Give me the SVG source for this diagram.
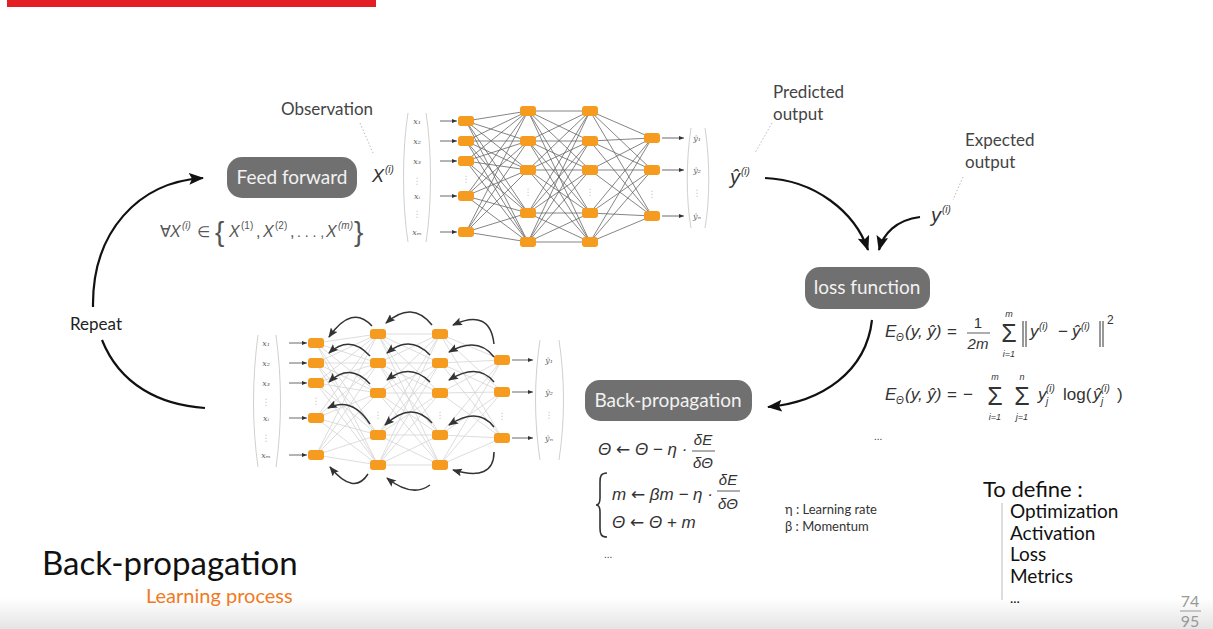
<svg xmlns="http://www.w3.org/2000/svg" width="1213" height="629" viewBox="0 0 1213 629">
<style>
.lbl{font-family:Lato,"Liberation Sans",sans-serif;fill:#444}
.pill{fill:#707070}
.pilltxt{font-family:Lato,"Liberation Sans",sans-serif;font-size:19px;fill:#f2f2f2;text-anchor:middle}
.node{fill:#f59b1f}
.m{font-family:"Liberation Sans","DejaVu Sans",sans-serif;fill:#333}
.mi{font-family:"Liberation Sans","DejaVu Sans",sans-serif;fill:#333;font-style:italic}
.arr{font-family:"DejaVu Sans",sans-serif;font-style:normal}
.tiny{font-family:"DejaVu Serif",serif;font-style:italic;font-size:8px;fill:#666;text-anchor:middle}
.dots{font-family:"DejaVu Sans",sans-serif;font-size:9px;fill:#c8c8c8;text-anchor:middle}
.big{fill:none;stroke:#111;stroke-width:2.2}
.small{fill:none;stroke:#333;stroke-width:1.5}
.inarr{fill:none;stroke:#444;stroke-width:0.8}
.lead{fill:none;stroke:#bbb;stroke-width:1;stroke-dasharray:1.5 2}
.paren{fill:none;stroke:#d0d0d0;stroke-width:1}
.fa{font-family:"Liberation Sans","DejaVu Sans",sans-serif;fill:#555}
</style>
<defs>
<marker id="bigHead" markerUnits="userSpaceOnUse" markerWidth="16" markerHeight="12" refX="14" refY="6" orient="auto">
<path d="M0,0 L15,6 L0,12 L3,6 z" fill="#111"/>
</marker>
<marker id="smHead" markerUnits="userSpaceOnUse" markerWidth="10" markerHeight="8" refX="9" refY="4" orient="auto">
<path d="M0,0 L10,4 L0,8 L2,4 z" fill="#333"/>
</marker>
<marker id="tinyHead" markerUnits="userSpaceOnUse" markerWidth="5" markerHeight="4" refX="5" refY="2" orient="auto">
<path d="M0,0 L5,2 L0,4 z" fill="#333"/>
</marker>
<linearGradient id="band" x1="0" y1="0" x2="0" y2="1">
<stop offset="0" stop-color="#ffffff"/>
<stop offset="1" stop-color="#e4e4e4"/>
</linearGradient>
</defs>
<rect x="0" y="0" width="1213" height="629" fill="#ffffff"/>
<rect x="0" y="598" width="1213" height="31" fill="url(#band)"/>
<rect x="7" y="0" width="369" height="7" fill="#e31e24"/>

<g id="connectors">
<path class="big" d="M765,178 C815,180 855,212 868,250" marker-end="url(#bigHead)"/>
<path class="big" d="M920,217 C896,220 883,234 879,250" marker-end="url(#bigHead)"/>
<path class="big" d="M872,320 C866,372 822,402 768,407" marker-end="url(#bigHead)"/>
<path class="big" d="M205,408 C160,405 120,385 102,340"/>
<path class="big" d="M93,307 C92,232 138,182 203,178" marker-end="url(#bigHead)"/>
<path class="lead" d="M360,123 L373,153"/>
<path class="lead" d="M772,123 L755,153"/>
<path class="lead" d="M963,177 L953,200"/>
</g>

<g id="top-network">
<path d="M408,113 C402,150 402,205 408,242" class="paren"/>
<path d="M426,113 C432,150 432,205 426,242" class="paren"/>
<path d="M691,128 C686,160 686,200 691,228" class="paren"/>
<path d="M705,128 C710,160 710,200 705,228" class="paren"/>
<text class="tiny" x="417" y="124">x₁</text>
<text class="tiny" x="417" y="144">x₂</text>
<text class="tiny" x="417" y="164">x₃</text>
<text class="dots" x="417" y="184">⋮</text>
<text class="tiny" x="417" y="199">xᵢ</text>
<text class="dots" x="417" y="217">⋮</text>
<text class="tiny" x="417" y="235">xₘ</text>
<text class="tiny" x="697" y="141">ŷ₁</text>
<text class="tiny" x="697" y="173">ŷ₂</text>
<text class="dots" x="697" y="196">⋮</text>
<text class="tiny" x="697" y="219">ŷₙ</text>
<g class="inarr" marker-end="url(#tinyHead)">
<path d="M440,121 L457,121"/><path d="M440,141 L457,141"/><path d="M440,161 L457,161"/><path d="M440,196 L457,196"/><path d="M440,232 L457,232"/>
<path d="M662,138 L684,138"/><path d="M662,170 L684,170"/><path d="M662,216 L684,216"/>
</g>
<path fill="none" stroke="#666" stroke-width="0.8" d="M466 121L528 111M466 121L528 141M466 121L528 170M466 121L528 213M466 121L528 242M466 141L528 111M466 141L528 141M466 141L528 170M466 141L528 213M466 141L528 242M466 161L528 111M466 161L528 141M466 161L528 170M466 161L528 213M466 161L528 242M466 196L528 111M466 196L528 141M466 196L528 170M466 196L528 213M466 196L528 242M466 232L528 111M466 232L528 141M466 232L528 170M466 232L528 213M466 232L528 242
M528 111L590 111M528 111L590 141M528 111L590 170M528 111L590 213M528 111L590 242M528 141L590 111M528 141L590 141M528 141L590 170M528 141L590 213M528 141L590 242M528 170L590 111M528 170L590 141M528 170L590 170M528 170L590 213M528 170L590 242M528 213L590 111M528 213L590 141M528 213L590 170M528 213L590 213M528 213L590 242M528 242L590 111M528 242L590 141M528 242L590 170M528 242L590 213M528 242L590 242
M590 111L652 138M590 111L652 170M590 111L652 216M590 141L652 138M590 141L652 170M590 141L652 216M590 170L652 138M590 170L652 170M590 170L652 216M590 213L652 138M590 213L652 170M590 213L652 216M590 242L652 138M590 242L652 170M590 242L652 216"/>
<text class="dots" x="466" y="182">⋮</text>
<text class="dots" x="528" y="195">⋮</text>
<text class="dots" x="590" y="195">⋮</text>
<text class="dots" x="652" y="197">⋮</text>
<g class="node">
<rect x="458" y="116" width="16" height="10" rx="3"/><rect x="458" y="136" width="16" height="10" rx="3"/><rect x="458" y="156" width="16" height="10" rx="3"/><rect x="458" y="191" width="16" height="10" rx="3"/><rect x="458" y="227" width="16" height="10" rx="3"/>
<rect x="520" y="106" width="16" height="10" rx="3"/><rect x="520" y="136" width="16" height="10" rx="3"/><rect x="520" y="165" width="16" height="10" rx="3"/><rect x="520" y="208" width="16" height="10" rx="3"/><rect x="520" y="237" width="16" height="10" rx="3"/>
<rect x="582" y="106" width="16" height="10" rx="3"/><rect x="582" y="136" width="16" height="10" rx="3"/><rect x="582" y="165" width="16" height="10" rx="3"/><rect x="582" y="208" width="16" height="10" rx="3"/><rect x="582" y="237" width="16" height="10" rx="3"/>
<rect x="644" y="133" width="16" height="10" rx="3"/><rect x="644" y="165" width="16" height="10" rx="3"/><rect x="644" y="211" width="16" height="10" rx="3"/>
</g>
</g>

<g id="bottom-network">
<path d="M258,335 C252,380 252,425 258,467" class="paren"/>
<path d="M276,335 C282,380 282,425 276,467" class="paren"/>
<path d="M540,340 C534,380 534,420 540,460" class="paren"/>
<path d="M559,340 C565,380 565,420 559,460" class="paren"/>
<text class="tiny" x="266" y="346">x₁</text>
<text class="tiny" x="266" y="366">x₂</text>
<text class="tiny" x="266" y="386">x₃</text>
<text class="dots" x="266" y="405">⋮</text>
<text class="tiny" x="266" y="421">xᵢ</text>
<text class="dots" x="266" y="441">⋮</text>
<text class="tiny" x="266" y="458">xₘ</text>
<text class="tiny" x="549" y="363">ŷ₁</text>
<text class="tiny" x="549" y="395">ŷ₂</text>
<text class="dots" x="549" y="418">⋮</text>
<text class="tiny" x="549" y="441">ŷₙ</text>
<g class="inarr" marker-end="url(#tinyHead)">
<path d="M289,343 L307,343"/><path d="M289,363 L307,363"/><path d="M289,383 L307,383"/><path d="M289,418 L307,418"/><path d="M289,455 L307,455"/>
<path d="M512,360 L533,360"/><path d="M512,392 L533,392"/><path d="M512,438 L533,438"/>
</g>
<path fill="none" stroke="#d4d4d4" stroke-width="0.8" d="M316 343L378 334M316 343L378 363M316 343L378 393M316 343L378 435M316 343L378 465M316 363L378 334M316 363L378 363M316 363L378 393M316 363L378 435M316 363L378 465M316 383L378 334M316 383L378 363M316 383L378 393M316 383L378 435M316 383L378 465M316 418L378 334M316 418L378 363M316 418L378 393M316 418L378 435M316 418L378 465M316 455L378 334M316 455L378 363M316 455L378 393M316 455L378 435M316 455L378 465
M378 334L440 334M378 334L440 363M378 334L440 393M378 334L440 435M378 334L440 465M378 363L440 334M378 363L440 363M378 363L440 393M378 363L440 435M378 363L440 465M378 393L440 334M378 393L440 363M378 393L440 393M378 393L440 435M378 393L440 465M378 435L440 334M378 435L440 363M378 435L440 393M378 435L440 435M378 435L440 465M378 465L440 334M378 465L440 363M378 465L440 393M378 465L440 435M378 465L440 465
M440 334L502 360M440 334L502 392M440 334L502 438M440 363L502 360M440 363L502 392M440 363L502 438M440 393L502 360M440 393L502 392M440 393L502 438M440 435L502 360M440 435L502 392M440 435L502 438M440 465L502 360M440 465L502 392M440 465L502 438"/>
<text class="dots" x="316" y="404">⋮</text>
<text class="dots" x="378" y="418">⋮</text>
<text class="dots" x="440" y="418">⋮</text>
<text class="dots" x="502" y="419">⋮</text>
<g class="node">
<rect x="308" y="338" width="16" height="10" rx="3"/><rect x="308" y="358" width="16" height="10" rx="3"/><rect x="308" y="378" width="16" height="10" rx="3"/><rect x="308" y="413" width="16" height="10" rx="3"/><rect x="308" y="450" width="16" height="10" rx="3"/>
<rect x="370" y="329" width="16" height="10" rx="3"/><rect x="370" y="358" width="16" height="10" rx="3"/><rect x="370" y="388" width="16" height="10" rx="3"/><rect x="370" y="430" width="16" height="10" rx="3"/><rect x="370" y="460" width="16" height="10" rx="3"/>
<rect x="432" y="329" width="16" height="10" rx="3"/><rect x="432" y="358" width="16" height="10" rx="3"/><rect x="432" y="388" width="16" height="10" rx="3"/><rect x="432" y="430" width="16" height="10" rx="3"/><rect x="432" y="460" width="16" height="10" rx="3"/>
<rect x="494" y="355" width="16" height="10" rx="3"/><rect x="494" y="387" width="16" height="10" rx="3"/><rect x="494" y="433" width="16" height="10" rx="3"/>
</g>
<g class="small" marker-end="url(#smHead)">
<path d="M372,326 Q352,304 329,337"/>
<path d="M370,356 Q350,334 329,353"/>
<path d="M370,384 Q350,362 329,382"/>
<path d="M370,424 Q352,396 328,408"/>
<path d="M368,474 Q354,496 330,467"/>
<path d="M432,325 Q412,300 386,323"/>
<path d="M430,355 Q410,334 387,353"/>
<path d="M430,382 Q410,362 387,380"/>
<path d="M432,423 Q412,400 385,425"/>
<path d="M430,485 Q412,498 387,478"/>
<path d="M494,344 Q490,308 453,325"/>
<path d="M494,357 Q478,336 449,352"/>
<path d="M494,382 Q478,362 449,380"/>
<path d="M494,427 Q478,406 449,425"/>
<path d="M494,452 Q494,482 453,470"/>
</g>
</g>

<g id="feed-forward">
<rect class="pill" x="227" y="157" width="130" height="41" rx="15"/>
<text class="pilltxt" x="292" y="184">Feed forward</text>
</g>
<g id="loss-function">
<rect class="pill" x="805" y="267" width="125" height="42" rx="15"/>
<text class="pilltxt" x="867" y="294">loss function</text>
</g>
<g id="back-propagation">
<rect class="pill" x="585" y="380" width="167" height="41" rx="15"/>
<text class="pilltxt" x="668" y="407">Back-propagation</text>
</g>

<g id="labels">
<text class="lbl" x="281" y="115" font-size="17">Observation</text>
<text class="lbl" x="773" y="98" font-size="17">Predicted</text>
<text class="lbl" x="773" y="120" font-size="17">output</text>
<text class="lbl" x="965" y="146" font-size="17">Expected</text>
<text class="lbl" x="965" y="168" font-size="17">output</text>
<text class="lbl" x="70" y="330" font-size="17" style="fill:#222">Repeat</text>
<text class="mi" x="372" y="182" font-size="18">X</text>
<text class="mi" x="385" y="173" font-size="10">(i)</text>
<text class="mi" x="730" y="184" font-size="20">ŷ</text>
<text class="mi" x="741" y="175" font-size="10">(i)</text>
<text class="mi" x="931" y="222" font-size="20">y</text>
<text class="mi" x="942" y="213" font-size="10">(i)</text>
</g>

<g id="forall">
<text class="fa" x="160" y="237" font-size="16">∀</text>
<text class="fa" x="170" y="237" font-size="16" font-style="italic">X</text>
<text class="fa" x="182" y="229" font-size="10" font-style="italic">(i)</text>
<text class="fa" x="197" y="237" font-size="15">∈</text>
<text class="fa" x="215" y="241" font-size="28">{</text>
<text class="fa" x="229" y="237" font-size="16" font-style="italic">X</text>
<text class="fa" x="241" y="229" font-size="10">(1)</text>
<text class="fa" x="256" y="237" font-size="16">,</text>
<text class="fa" x="263" y="237" font-size="16" font-style="italic">X</text>
<text class="fa" x="275" y="229" font-size="10">(2)</text>
<text class="fa" x="290" y="237" font-size="16">,</text>
<text class="fa" x="297" y="237" font-size="14">. . . ,</text>
<text class="fa" x="326" y="237" font-size="16" font-style="italic">X</text>
<text class="fa" x="338" y="229" font-size="10" font-style="italic">(m)</text>
<text class="fa" x="354" y="241" font-size="28">}</text>
</g>

<g id="loss-formulas">
<text class="mi" x="885" y="337" font-size="17">E</text>
<text class="mi" x="896" y="341" font-size="10">Θ</text>
<text class="mi" x="905" y="337" font-size="17">(y, ŷ)</text>
<text class="m" x="947" y="337" font-size="17">=</text>
<text class="m" x="978" y="328" font-size="15" text-anchor="middle">1</text>
<line x1="967" y1="333" x2="990" y2="333" stroke="#333" stroke-width="0.8"/>
<text class="mi" x="978" y="349" font-size="15" text-anchor="middle">2m</text>
<text class="m" x="1009" y="342" font-size="25" text-anchor="middle">Σ</text>
<text class="mi" x="1009" y="317" font-size="9" text-anchor="middle">m</text>
<text class="mi" x="1009" y="357" font-size="9" text-anchor="middle">i=1</text>
<path d="M1023,321 V347 M1026,321 V347 M1100,321 V347 M1103,321 V347" stroke="#333" stroke-width="1"/>
<text class="mi" x="1030" y="337" font-size="17">y</text>
<text class="mi" x="1039" y="330" font-size="10">(i)</text>
<text class="m" x="1058" y="337" font-size="17">−</text>
<text class="mi" x="1072" y="337" font-size="17">ŷ</text>
<text class="mi" x="1081" y="330" font-size="10">(i)</text>
<text class="m" x="1107" y="324" font-size="12">2</text>

<text class="mi" x="885" y="400" font-size="17">E</text>
<text class="mi" x="896" y="404" font-size="10">Θ</text>
<text class="mi" x="905" y="400" font-size="17">(y, ŷ)</text>
<text class="m" x="947" y="400" font-size="17">=</text>
<text class="m" x="963" y="400" font-size="17">−</text>
<text class="m" x="995" y="405" font-size="25" text-anchor="middle">Σ</text>
<text class="mi" x="995" y="380" font-size="9" text-anchor="middle">m</text>
<text class="mi" x="995" y="420" font-size="9" text-anchor="middle">i=1</text>
<text class="m" x="1022" y="405" font-size="25" text-anchor="middle">Σ</text>
<text class="mi" x="1022" y="380" font-size="9" text-anchor="middle">n</text>
<text class="mi" x="1022" y="420" font-size="9" text-anchor="middle">j=1</text>
<text class="mi" x="1038" y="400" font-size="17">y</text>
<text class="mi" x="1046" y="405" font-size="10">j</text>
<text class="mi" x="1046" y="392" font-size="10">(i)</text>
<text class="m" x="1063" y="400" font-size="17">log(</text>
<text class="mi" x="1093" y="400" font-size="17">ŷ</text>
<text class="mi" x="1101" y="405" font-size="10">j</text>
<text class="mi" x="1101" y="392" font-size="10">(i)</text>
<text class="m" x="1117" y="400" font-size="17">)</text>
<text class="m" x="874" y="440" font-size="10">...</text>
</g>

<g id="update-formulas">
<text class="mi" x="598" y="455" font-size="17">Θ <tspan class="arr">←</tspan> Θ − η ·</text>
<text class="mi" x="703" y="445" font-size="15" text-anchor="middle">δE</text>
<line x1="692" y1="451" x2="715" y2="451" stroke="#333" stroke-width="0.8"/>
<text class="mi" x="703" y="468" font-size="15" text-anchor="middle">δΘ</text>
<path d="M607,473 C601,473 600,476 600,482 L600,498 C600,503 599,505 596,505 C599,505 600,507 600,512 L600,528 C600,534 601,537 607,537" fill="none" stroke="#333" stroke-width="1.6"/>
<text class="mi" x="612" y="500" font-size="17">m <tspan class="arr">←</tspan> βm − η ·</text>
<text class="mi" x="728" y="485" font-size="15" text-anchor="middle">δE</text>
<line x1="717" y1="491" x2="740" y2="491" stroke="#333" stroke-width="0.8"/>
<text class="mi" x="728" y="509" font-size="15" text-anchor="middle">δΘ</text>
<text class="mi" x="612" y="528" font-size="17">Θ <tspan class="arr">←</tspan> Θ + m</text>
<text class="m" x="604" y="558" font-size="10">...</text>
<text class="lbl" x="785" y="514" font-size="13" style="fill:#333">η : Learning rate</text>
<text class="lbl" x="785" y="531" font-size="13" style="fill:#333">β : Momentum</text>
</g>

<g id="title">
<text class="lbl" x="42" y="575" font-size="33" style="fill:#111">Back-propagation</text>
<text class="lbl" x="146" y="603" font-size="20" style="fill:#f07a22">Learning process</text>
</g>

<g id="to-define">
<text class="lbl" x="983" y="497" font-size="22" style="fill:#111">To define :</text>
<line x1="1002" y1="503" x2="1002" y2="600" stroke="#bbb" stroke-width="1"/>
<text class="lbl" x="1010" y="518" font-size="19" style="fill:#111">Optimization</text>
<text class="lbl" x="1010" y="540" font-size="19" style="fill:#111">Activation</text>
<text class="lbl" x="1010" y="561" font-size="19" style="fill:#111">Loss</text>
<text class="lbl" x="1010" y="583" font-size="19" style="fill:#111">Metrics</text>
<text class="lbl" x="1010" y="603" font-size="14" style="fill:#111">...</text>
</g>

<g id="page-number">
<text class="lbl" x="1190" y="607" font-size="16" text-anchor="middle" style="fill:#999">74</text>
<line x1="1180" y1="611" x2="1201" y2="611" stroke="#999" stroke-width="1"/>
<text class="lbl" x="1190" y="627" font-size="16" text-anchor="middle" style="fill:#999">95</text>
</g>
</svg>
